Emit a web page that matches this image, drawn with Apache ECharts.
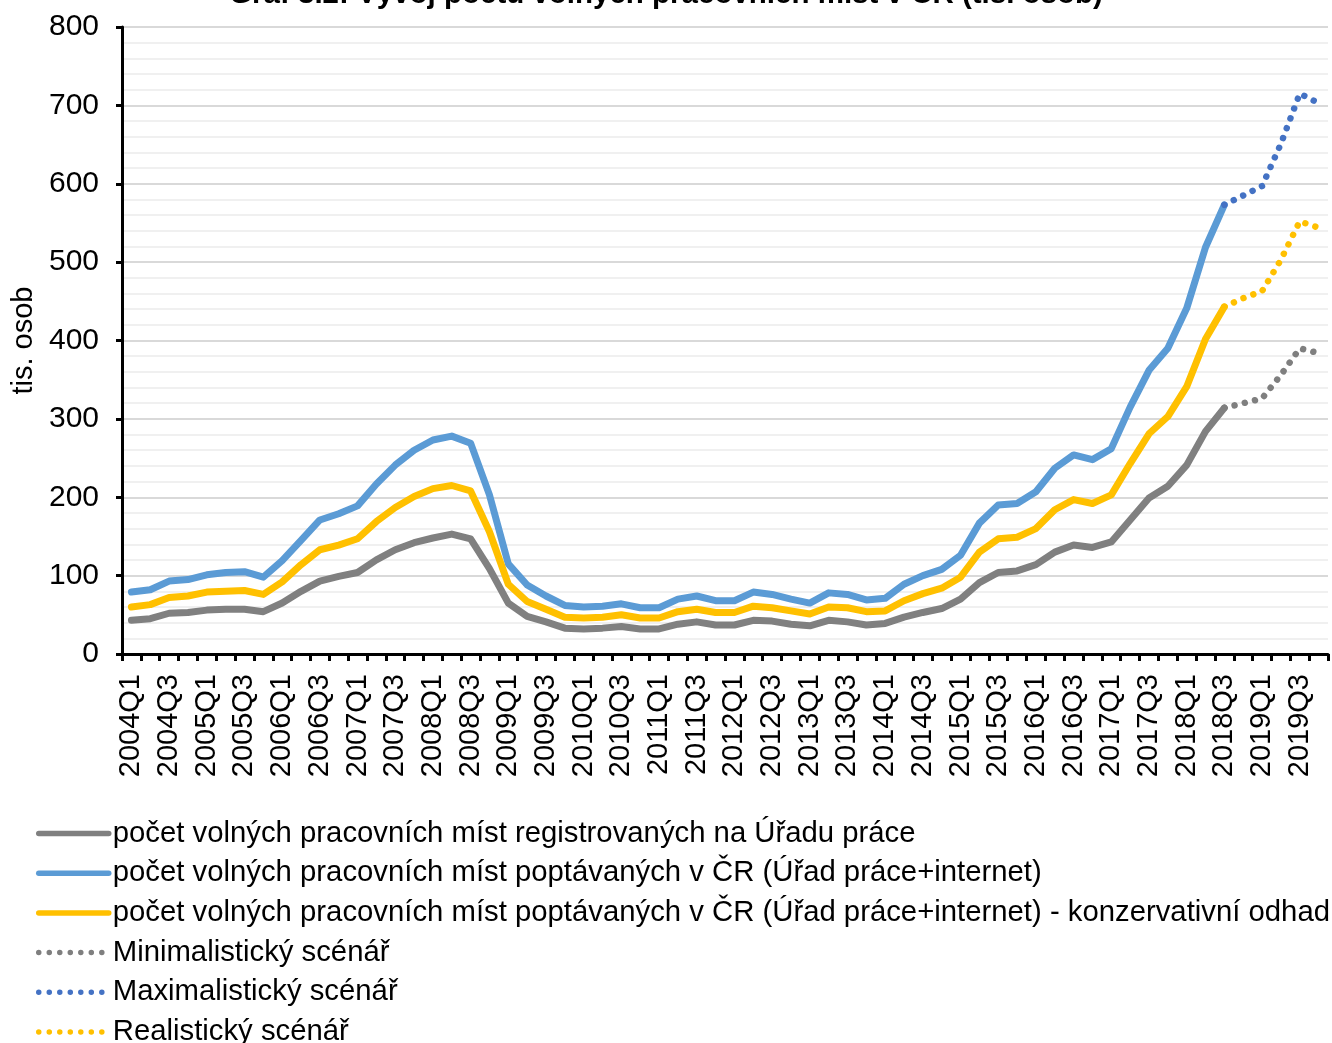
<!DOCTYPE html>
<html>
<head>
<meta charset="utf-8">
<title>Vývoj počtu volných pracovních míst v ČR</title>
<script src="https://cdn.jsdelivr.net/npm/echarts@6/dist/echarts.min.js"></script>
<style>
  html, body { margin: 0; padding: 0; background: #fff; }
  #main { width: 1332px; height: 1043px; }
</style>
</head>
<body>
<div id="main"></div>
<script>
// quarters 2004Q1 .. 2019Q4
const quarters = [
  "2004Q1","2004Q2","2004Q3","2004Q4","2005Q1","2005Q2","2005Q3","2005Q4",
  "2006Q1","2006Q2","2006Q3","2006Q4","2007Q1","2007Q2","2007Q3","2007Q4",
  "2008Q1","2008Q2","2008Q3","2008Q4","2009Q1","2009Q2","2009Q3","2009Q4",
  "2010Q1","2010Q2","2010Q3","2010Q4","2011Q1","2011Q2","2011Q3","2011Q4",
  "2012Q1","2012Q2","2012Q3","2012Q4","2013Q1","2013Q2","2013Q3","2013Q4",
  "2014Q1","2014Q2","2014Q3","2014Q4","2015Q1","2015Q2","2015Q3","2015Q4",
  "2016Q1","2016Q2","2016Q3","2016Q4","2017Q1","2017Q2","2017Q3","2017Q4",
  "2018Q1","2018Q2","2018Q3","2018Q4","2019Q1","2019Q2","2019Q3","2019Q4"
];

// registered at labour office (tis.)
const registered = [
  43, 45, 52, 53, 56, 57, 57, 54, 65, 80, 93, 99, 104, 120, 133, 142,
  148, 153, 147, 109, 65, 48, 41, 33, 32, 33, 35, 32, 32, 38, 41, 37,
  37, 43, 42, 38, 36, 43, 41, 37, 39, 47, 53, 58, 70, 91, 104, 106,
  114, 130, 139, 136, 143, 171, 199, 214, 241, 284, 314, null, null, null, null, null
];

// demanded (labour office + internet)
const demanded = [
  79, 82, 93, 95, 101, 104, 105, 98, 119, 145, 171, 179, 189, 217, 241, 260,
  273, 278, 269, 203, 115, 88, 74, 62, 60, 61, 64, 59, 59, 70, 74, 68,
  68, 79, 76, 70, 65, 78, 76, 69, 71, 89, 100, 108, 126, 167, 190, 192,
  207, 237, 254, 248, 262, 315, 362, 390, 441, 519, 573, null, null, null, null, null
];

// demanded - conservative estimate
const conservative = [
  60, 63, 72, 74, 79, 80, 81, 76, 92, 114, 133, 139, 147, 169, 187, 201,
  211, 215, 208, 156, 89, 67, 57, 47, 46, 47, 50, 46, 46, 54, 57, 53,
  53, 61, 59, 55, 51, 60, 59, 54, 55, 68, 77, 84, 98, 130, 147, 149,
  160, 184, 197, 192, 203, 243, 281, 303, 341, 402, 443, null, null, null, null, null
];

// scenarios 2018Q3 .. 2019Q4
const scenarioStart = 58;
const minScenario = [314, 320, 326, 356, 390, 384];
const maxScenario = [573, 585, 597, 651, 715, 703];
const realScenario = [443, 454, 463, 503, 552, 544];

const seriesNames = [
  "počet volných pracovních míst registrovaných na Úřadu práce",
  "počet volných pracovních míst poptávaných v ČR (Úřad práce+internet)",
  "počet volných pracovních míst poptávaných v ČR (Úřad práce+internet) - konzervativní odhad",
  "Minimalistický scénář",
  "Maximalistický scénář",
  "Realistický scénář"
];

function padScenario(values) {
  const out = quarters.map(() => null);
  values.forEach((v, k) => { out[scenarioStart + k] = v; });
  return out;
}

const font = "Liberation Sans, Arial, sans-serif";

function solid(name, data, color) {
  return {
    name: name, type: "line", data: data, symbol: "none", smooth: false,
    lineStyle: { color: color, width: 7, cap: "round", join: "round" },
    itemStyle: { color: color }
  };
}
function dotted(name, data, color) {
  return {
    name: name, type: "line", data: data, symbol: "none", smooth: false,
    lineStyle: { color: color, width: 6.5, type: [0.01, 10.5], cap: "round" },
    itemStyle: { color: color }
  };
}

var chartDom = document.getElementById("main");
var myChart = echarts.init(chartDom);

var option = {
  animation: false,
  title: {
    text: "Graf 3.2: Vývoj počtu volných pracovních míst v ČR (tis. osob)",
    left: "center",
    top: -20,
    padding: 0,
    textStyle: { fontFamily: font, fontWeight: "bold", fontSize: 29.5, color: "#000" }
  },
  grid: { left: 122, right: 4, top: 27, bottom: 389, containLabel: false },
  legend: {
    orient: "vertical",
    left: 36,
    top: 819,
    height: 240,
    padding: 0,
    itemWidth: 70,
    itemHeight: 14,
    itemGap: 10.7,
    lineStyle: { width: 5.5 },
    itemStyle: { opacity: 0 },
    textStyle: { fontFamily: font, fontSize: 29.3, color: "#000", lineHeight: 29, padding: [0, 0, 0, -1] },
    data: seriesNames
  },
  xAxis: {
    type: "category",
    data: quarters,
    boundaryGap: true,
    axisLine: { lineStyle: { color: "#000", width: 3 } },
    axisTick: { show: true, interval: 0, length: 7, lineStyle: { color: "#000", width: 3 } },
    axisLabel: {
      interval: 1, rotate: 90, margin: 20,
      fontFamily: font, fontSize: 29, color: "#000"
    },
    splitLine: { show: false }
  },
  yAxis: {
    type: "value",
    min: 0, max: 800, interval: 100,
    name: "tis. osob",
    nameLocation: "middle",
    nameGap: 82,
    nameRotate: 90,
    nameTextStyle: { fontFamily: font, fontSize: 29, color: "#000" },
    axisLine: { show: true, lineStyle: { color: "#000", width: 3 } },
    axisTick: { show: true, length: 6, lineStyle: { color: "#000", width: 3 } },
    axisLabel: { margin: 23, fontFamily: font, fontSize: 30, color: "#000" },
    splitLine: { show: true, lineStyle: { color: "#D9D9D9", width: 2 } },
    minorTick: { show: false, splitNumber: 5 },
    minorSplitLine: { show: true, lineStyle: { color: "#F0F0F0", width: 2 } }
  },
  series: [
    solid(seriesNames[0], registered, "#808080"),
    solid(seriesNames[1], demanded, "#5B9BD5"),
    solid(seriesNames[2], conservative, "#FFC000"),
    dotted(seriesNames[3], padScenario(minScenario), "#7F7F7F"),
    dotted(seriesNames[4], padScenario(maxScenario), "#4472C4"),
    dotted(seriesNames[5], padScenario(realScenario), "#FFC000")
  ]
};

option && myChart.setOption(option);
</script>
</body>
</html>
